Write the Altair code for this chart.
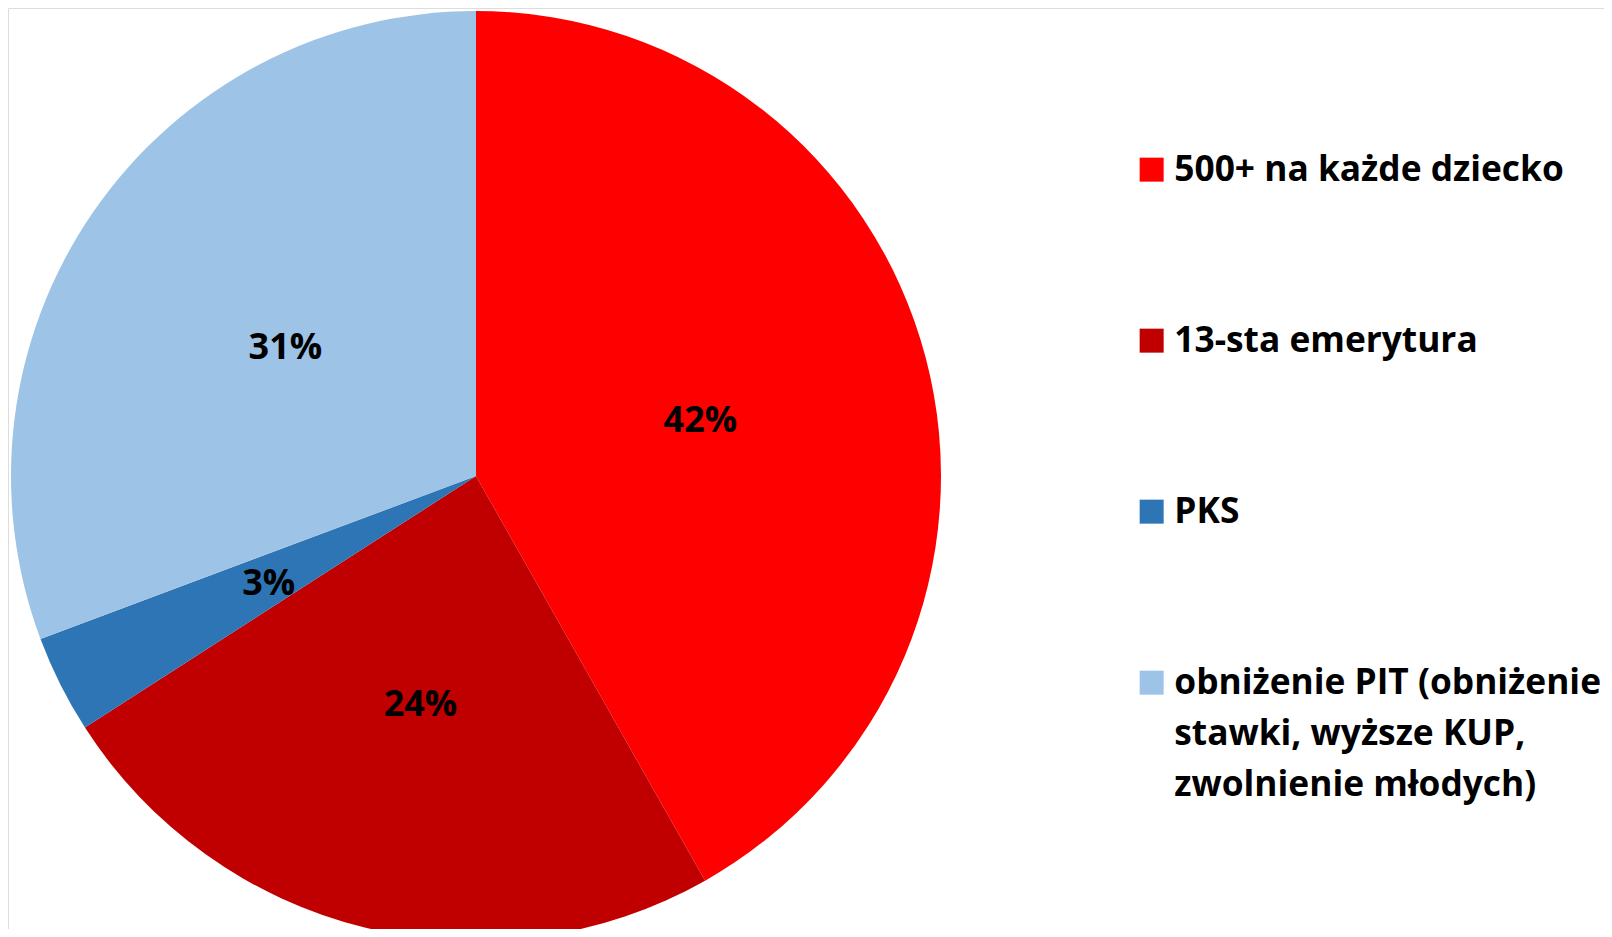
import altair as alt
import pandas as pd

categories = [
    "500+ na każde dziecko",
    "13-sta emerytura",
    "PKS",
    "obniżenie PIT (obniżenie\nstawki, wyższe KUP,\nzwolnienie młodych)",
]
values = [41.8, 24.1, 3.4, 30.7]
pct_labels = ["42%", "24%", "3%", "31%"]
colors = ["#FF0000", "#C00000", "#2E75B6", "#9DC3E6"]

df = pd.DataFrame({
    "kat": categories,
    "val": values,
    "lab": pct_labels,
    "ord": list(range(len(categories))),
})

FONT = "Open Sans"
CX, CY, R = 468, 468, 465
LINE_H = 51

color = alt.Color(
    "kat:N",
    scale=alt.Scale(domain=categories, range=colors),
    sort=categories,
    legend=alt.Legend(
        title=None,
        orient="none",
        legendX=1126,
        legendY=144,
        direction="vertical",
        symbolType="square",
        symbolSize=576,
        symbolStrokeWidth=0,
        labelFont=FONT,
        labelFontWeight="bold",
        labelFontSize=35.3,
        labelColor="#000000",
        labelLimit=600,
        labelOffset=5,
        rowPadding=135,
        labelExpr='split(datum.label, "\\n")',
        labelBaseline="middle",
    ),
)

base = alt.Chart(df).encode(
    theta=alt.Theta("val:Q", stack=True),
    order=alt.Order("ord:Q"),
)

arcs = base.mark_arc(radius=R, stroke=None).encode(
    color=color,
    x=alt.value(CX),
    y=alt.value(CY),
)

texts = base.mark_text(
    radius=232,
    font=FONT,
    fontWeight="bold",
    fontSize=36,
    color="#000000",
    align="center",
    baseline="middle",
    dy=4,
).encode(
    text="lab:N",
    x=alt.value(CX),
    y=alt.value(CY),
)

chart = (
    alt.layer(arcs, texts)
    .properties(width=1596, height=921, autosize=alt.AutoSizeParams(type="none"), padding=0)
    .configure_view(stroke=None)
    .configure(background="#FFFFFF", style={"guide-label": {"lineHeight": LINE_H}})
)

chart.save("out.html", embed_options={"renderer": "svg", "actions": False})
